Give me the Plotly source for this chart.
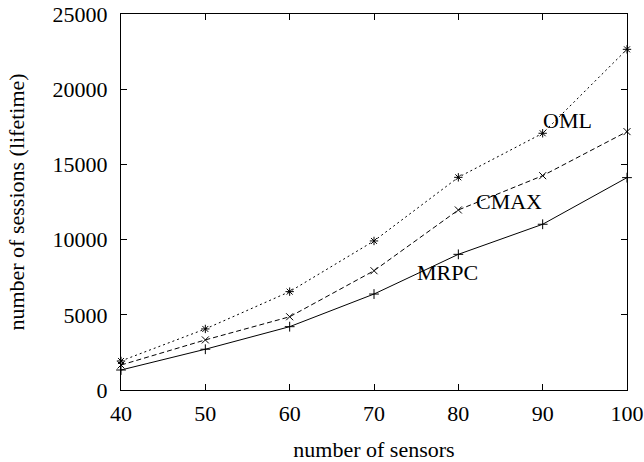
import plotly.graph_objects as go

sensors = [40, 50, 60, 70, 80, 90, 100]
oml = [1930, 4060, 6540, 9910, 14140, 17070, 22650]
cmax = [1660, 3330, 4870, 7930, 11970, 14250, 17180]
mrpc = [1330, 2710, 4210, 6380, 9020, 11020, 14120]

y_ticks = [0, 5000, 10000, 15000, 20000, 25000]
y_ticktext = ["0", "5000", "10000", "15000", "20000", "25000"]

labels = ["OML", "CMAX", "MRPC"]
label_x = [92.9, 86.0, 78.7]
label_y = [17950, 12520, 7800]

font = "Liberation Serif, Times New Roman, serif"
fs = 22

fig = go.Figure()
series = [
    (oml, "2px,3px", "asterisk-open"),
    (cmax, "5px,3px", "x-thin-open"),
    (mrpc, "solid", "cross-thin-open"),
]
for name, (vals, dash, sym) in zip(labels, series):
    fig.add_trace(go.Scatter(
        x=sensors, y=vals, mode="lines+markers", name=name,
        line=dict(color="black", width=1, dash=dash),
        marker=dict(symbol=sym, size=7, color="black", line=dict(color="black", width=1)),
        showlegend=False, cliponaxis=False,
    ))

for t, x, y in zip(labels, label_x, label_y):
    fig.add_annotation(x=x, y=y, text=t, showarrow=False,
                       font=dict(family=font, size=fs, color="black"))

axis_common = dict(
    showgrid=False, zeroline=False, showline=True, linecolor="black", linewidth=1,
    mirror="ticks", ticks="inside", ticklen=6, tickcolor="black", automargin=False,
    tickfont=dict(family=font, size=fs, color="black"),
)
fig.update_xaxes(range=[40, 100], tickvals=sensors, **axis_common, ticklabelstandoff=4,
                 title=dict(text="number of sensors", font=dict(family=font, size=fs, color="black"), standoff=18))
fig.update_yaxes(range=[0, 25000], tickvals=y_ticks, ticktext=y_ticktext, **axis_common, ticklabelstandoff=8,
                 title=dict(text="number of sessions (lifetime)", font=dict(family=font, size=fs, color="black"), standoff=21))

fig.update_layout(
    width=644, height=462,
    margin=dict(l=121, r=17, t=14, b=72),
    plot_bgcolor="white", paper_bgcolor="white",
)
fig.write_html("out.html", config={"displayModeBar": False},
               post_script="document.body.style.margin='0';document.body.style.padding='0';")
